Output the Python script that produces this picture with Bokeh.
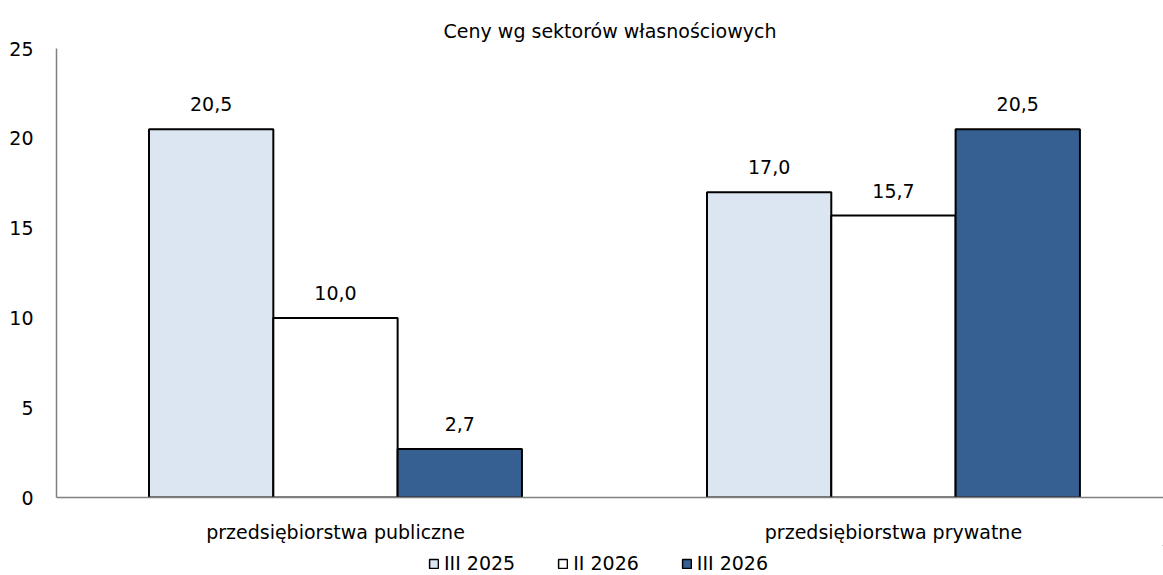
from bokeh.plotting import figure
from bokeh.models import Range1d, FixedTicker, Legend, LegendItem, ColumnDataSource, Title
from bokeh.layouts import column
from bokeh.core.properties import value
from bokeh.embed import file_html
from bokeh.resources import INLINE

categories = ["przedsiębiorstwa publiczne", "przedsiębiorstwa prywatne"]
series = ["III 2025", "II 2026", "III 2026"]
vals_iii2025 = [20.5, 17.0]
vals_ii2026 = [10.0, 15.7]
vals_iii2026 = [2.7, 20.5]
y_ticks = [0, 5, 10, 15, 20, 25]
title_text = "Ceny wg sektorów własnościowych"

FONT = "DejaVu Sans"
FS = "19px"
colors = ["#DCE6F2", "#FFFFFF", "#376092"]
all_vals = [vals_iii2025, vals_ii2026, vals_iii2026]

p = figure(width=1163, height=545, output_backend="svg", toolbar_location=None,
           x_range=Range1d(0, 1.984), y_range=Range1d(0, 25),
           min_border_left=56, min_border_right=0, min_border_top=48, min_border_bottom=44)
p.outline_line_color = None
p.xgrid.visible = False
p.ygrid.visible = False

p.title = Title(text=title_text, align="center", text_font=FONT, text_font_size=FS,
                text_font_style="normal", text_color="#000000", offset=0)
p.title.standoff = 14

width = 0.2228
offsets = [-width, 0.0, width]
for vals, off, col in zip(all_vals, offsets, colors):
    xs = [i + 0.5 + off for i in range(len(categories))]
    labels = [f"{v:.1f}".replace(".", ",") for v in vals]
    src = ColumnDataSource(dict(x=xs, top=vals, lab=labels))
    p.vbar(x="x", top="top", width=width, source=src, fill_color=col,
           line_color="black", line_width=2)
    p.text(x="x", y="top", text="lab", source=src, text_align="center",
           text_baseline="middle", y_offset=-25, text_font=value(FONT), text_font_size=FS,
           text_color="black")

# axes
p.yaxis.ticker = FixedTicker(ticks=y_ticks)
p.yaxis.major_tick_line_color = None
p.yaxis.minor_tick_line_color = None
p.yaxis.axis_line_color = "#808080"
p.yaxis.axis_line_width = 1.5
p.yaxis.major_label_text_font = FONT
p.yaxis.major_label_text_font_size = FS
p.yaxis.major_label_text_color = "black"
p.yaxis.major_label_standoff = 17

p.xaxis.ticker = FixedTicker(ticks=[i + 0.5 for i in range(len(categories))])
p.xaxis.major_label_overrides = {i + 0.5: c for i, c in enumerate(categories)}
p.xaxis.major_tick_line_color = None
p.xaxis.minor_tick_line_color = None
p.xaxis.axis_line_color = "#808080"
p.xaxis.axis_line_width = 1.5
p.xaxis.major_label_text_font = FONT
p.xaxis.major_label_text_font_size = FS
p.xaxis.major_label_text_color = "black"
p.xaxis.major_label_standoff = 17

# legend strip (its frame is aligned with the main frame, left edge at 56px)
lg = figure(width=1163, height=30, output_backend="svg", toolbar_location=None,
            x_range=Range1d(0, 1), y_range=Range1d(0, 1),
            x_axis_location=None, y_axis_location=None,
            min_border_left=0, min_border_right=0, min_border_top=0, min_border_bottom=0)
lg.outline_line_color = None
lg.grid.visible = False
items = []
for s, col in zip(series, colors):
    # legend-only swatch renderers, kept far outside the visible canvas
    r = lg.vbar(x=[50], bottom=[50], top=[51], width=0.1, fill_color=col,
                line_color="black", line_width=1.5)
    items.append(LegendItem(label=s, renderers=[r]))
legend = Legend(items=items, orientation="horizontal", location=(372, 1),
                label_text_font=FONT, label_text_font_size=FS, label_text_color="black",
                glyph_width=11, glyph_height=11, spacing=42, label_standoff=5,
                padding=0, margin=0, border_line_color=None, background_fill_alpha=0)
lg.add_layout(legend, "center")

layout = column(p, lg, spacing=0)
open("out.html", "w").write(file_html(layout, INLINE))
